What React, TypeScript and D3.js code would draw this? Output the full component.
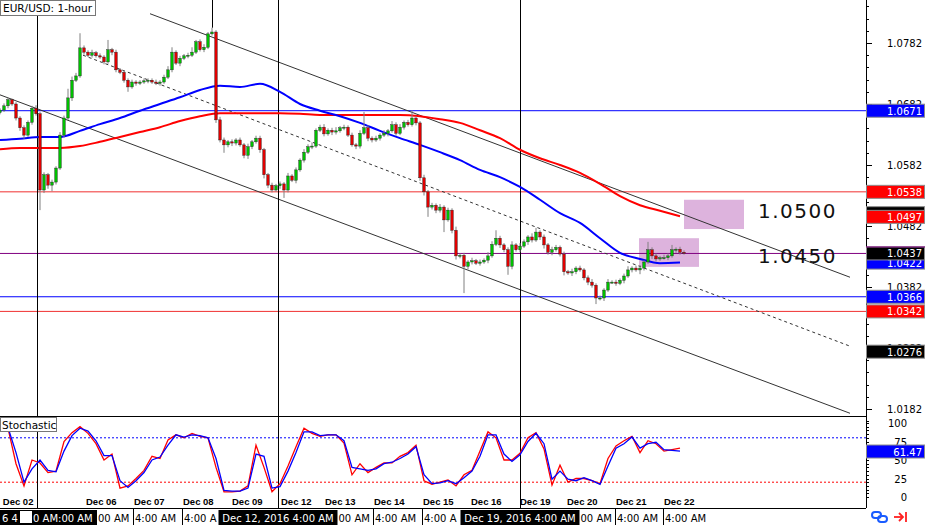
import React from 'react';
import * as d3 from 'd3';

const W = 925;
const H = 525;

// 2-hour candles (close prices); open = previous close
const firstOpen = 1.0668;
const closes = [
  1.0672, 1.0679, 1.0689, 1.0682, 1.0659, 1.0643, 1.0631, 1.0652, 1.0675, 1.0666,
  1.0541, 1.0566, 1.0549, 1.0554, 1.0577, 1.0631, 1.0659, 1.0692, 1.0721, 1.0728,
  1.0774, 1.0767, 1.0762, 1.0766, 1.0761, 1.0759, 1.0751, 1.0771, 1.0767, 1.0738,
  1.0734, 1.0721, 1.0710, 1.0718, 1.0716, 1.0718, 1.0720, 1.0721, 1.0718, 1.0716,
  1.0718, 1.0726, 1.0738, 1.0767, 1.0749, 1.0757, 1.0761, 1.0762, 1.0767, 1.0784,
  1.0771, 1.0775, 1.0797, 1.0800, 1.0656, 1.0623, 1.0615, 1.0620, 1.0618, 1.0623,
  1.0615, 1.0598, 1.0612, 1.0620, 1.0626, 1.0607, 1.0566, 1.0549, 1.0541, 1.0548,
  1.0551, 1.0541, 1.0564, 1.0557, 1.0574, 1.0590, 1.0603, 1.0612, 1.0613, 1.0639,
  1.0644, 1.0633, 1.0639, 1.0636, 1.0638, 1.0643, 1.0644, 1.0631, 1.0615, 1.0613,
  1.0634, 1.0643, 1.0626, 1.0623, 1.0626, 1.0631, 1.0634, 1.0638, 1.0648, 1.0634,
  1.0644, 1.0652, 1.0648, 1.0659, 1.0651, 1.0561, 1.0538, 1.0513, 1.0516, 1.0508,
  1.0513, 1.0492, 1.0508, 1.0475, 1.0433, 1.0434, 1.0416, 1.0423, 1.0425, 1.0421,
  1.0423, 1.0426, 1.0433, 1.0452, 1.0462, 1.0451, 1.0443, 1.0416, 1.0451, 1.0443,
  1.0449, 1.0456, 1.0464, 1.0459, 1.0472, 1.0464, 1.0451, 1.0439, 1.0443, 1.0447,
  1.0436, 1.0407, 1.0405, 1.0407, 1.0413, 1.0410, 1.0397, 1.0390, 1.0385, 1.0364,
  1.0364, 1.0377, 1.0390, 1.0390, 1.0388, 1.0393, 1.0400, 1.0410, 1.0413, 1.0410,
  1.0413, 1.0423, 1.0443, 1.0433, 1.0428, 1.0430, 1.0430, 1.0433, 1.0443, 1.0444,
  1.0439, 1.0438,
];
// wick lengths in pips above / below the body
const wickUp = [
  3, 4, 3, 2, 3, 3, 4, 3, 4, 5,
  3, 4, 3, 4, 3, 5, 4, 15, 6, 5,
  24, 4, 3, 5, 3, 4, 3, 16, 3, 4,
  3, 3, 3, 4, 3, 3, 4, 3, 3, 4,
  3, 4, 6, 8, 3, 4, 3, 4, 8, 3,
  4, 5, 3, 7, 3, 5, 4, 3, 4, 3,
  4, 3, 5, 3, 4, 4, 3, 3, 4, 3,
  4, 3, 5, 3, 4, 3, 5, 4, 6, 3,
  4, 5, 3, 4, 6, 3, 4, 3, 4, 3,
  5, 26, 4, 3, 4, 3, 5, 3, 6, 4,
  5, 3, 4, 13, 3, 3, 5, 3, 4, 3,
  5, 3, 4, 3, 6, 3, 4, 3, 5, 3,
  4, 3, 6, 5, 13, 4, 3, 4, 6, 3,
  5, 4, 3, 6, 7, 3, 4, 3, 5, 4,
  3, 4, 3, 5, 3, 4, 3, 4, 5, 3,
  4, 3, 5, 3, 4, 3, 4, 6, 3, 4,
  5, 3, 13, 4, 4, 3, 5, 4, 8, 3,
  4, 3,
];
const wickDown = [
  3, 3, 4, 3, 4, 5, 6, 3, 4, 3,
  33, 5, 6, 10, 4, 3, 4, 3, 5, 3,
  3, 4, 3, 4, 3, 3, 4, 3, 5, 4,
  3, 4, 8, 3, 4, 3, 3, 4, 3, 3,
  4, 3, 3, 4, 3, 5, 3, 4, 3, 3,
  3, 4, 3, 3, 5, 4, 13, 4, 5, 4,
  3, 5, 6, 4, 3, 5, 6, 5, 4, 3,
  5, 13, 4, 3, 5, 3, 4, 3, 4, 3,
  3, 4, 3, 5, 4, 3, 4, 3, 3, 5,
  4, 3, 5, 4, 3, 4, 3, 5, 3, 4,
  3, 4, 3, 3, 4, 5, 6, 16, 4, 5,
  4, 20, 3, 5, 6, 4, 44, 5, 4, 3,
  4, 3, 5, 3, 3, 5, 4, 14, 5, 3,
  4, 3, 5, 4, 3, 5, 6, 4, 5, 3,
  4, 6, 3, 5, 4, 3, 4, 5, 4, 10,
  4, 5, 3, 3, 4, 3, 5, 3, 4, 3,
  7, 4, 3, 5, 4, 3, 3, 4, 3, 5,
  4, 3,
];

// moving averages, one value every 5 candles
const blueMA = [
  1.0623, 1.0625, 1.0628, 1.0628, 1.0638, 1.0649, 1.0659, 1.0671, 1.0682, 1.0693,
  1.0705, 1.0712, 1.0710, 1.0715, 1.0702, 1.0682, 1.0671, 1.0662, 1.0651, 1.0638,
  1.0626, 1.0615, 1.0603, 1.0590, 1.0574, 1.0562, 1.0546, 1.0525, 1.0503, 1.0487,
  1.0462, 1.0438, 1.0428, 1.0421, 1.0422,
];
const redMA = [
  1.0608, 1.0610, 1.0610, 1.0610, 1.0613, 1.0620, 1.0628, 1.0636, 1.0644, 1.0654,
  1.0662, 1.0667, 1.0667, 1.0667, 1.0667, 1.0666, 1.0664, 1.0664, 1.0664, 1.0664,
  1.0664, 1.0662, 1.0657, 1.0651, 1.0639, 1.0626, 1.0607, 1.0593, 1.0582, 1.0569,
  1.0551, 1.0531, 1.0516, 1.0507, 1.0498,
];

// stochastic, one value every 2 candles
const stochMain = [
  93, 93, 45, 15, 50, 46, 33, 35, 75, 87,
  95, 86, 72, 50, 58, 12, 15, 25, 36, 55,
  52, 77, 84, 80, 86, 82, 80, 40, 7, 7,
  8, 15, 70, 40, 7, 18, 42, 68, 93, 86,
  82, 84, 84, 73, 30, 45, 33, 40, 46, 46,
  55, 60, 70, 22, 17, 20, 23, 15, 30, 36,
  62, 88, 80, 50, 50, 59, 80, 87, 65, 16,
  43, 20, 25, 25, 22, 18, 52, 69, 76, 82,
  60, 76, 72, 62, 64, 66,
];
const stochSignal = [
  92, 94, 60, 20, 38, 50, 36, 34, 62, 83,
  93, 89, 76, 56, 56, 22, 13, 22, 33, 50,
  54, 70, 84, 81, 84, 83, 80, 52, 9, 8,
  8, 12, 58, 55, 12, 14, 35, 60, 88, 88,
  83, 84, 84, 76, 40, 38, 36, 38, 45, 47,
  52, 58, 68, 30, 18, 19, 22, 18, 26, 35,
  55, 84, 84, 58, 48, 57, 75, 86, 72, 24,
  35, 24, 22, 26, 22, 17, 42, 66, 72, 81,
  66, 72, 74, 64, 63, 62,
];
const stochLast = 61.47;

const dayLabels = ['Dec 02', 'Dec 06', 'Dec 07', 'Dec 08', 'Dec 09', 'Dec 12', 'Dec 13',
  'Dec 14', 'Dec 15', 'Dec 16', 'Dec 19', 'Dec 20', 'Dec 21', 'Dec 22'];
const dayBars = [0.7, 21.5, 33.5, 45.75, 58, 70.25, 81.25, 93.5, 105.75, 117.75, 130, 141.75, 154, 166];

const priceTicks = [1.0182, 1.0282, 1.0382, 1.0482, 1.0582, 1.0682, 1.0782];
const stochTicks = [0, 25, 50, 75, 100];

// horizontal levels
const blueLevels = [1.0671, 1.0366];
const redLevels = [1.0538, 1.0342];
const bidLevel = 1.0437;

// trendlines: [bar, price] pairs
const channelUpper: [number, number][] = [[37.5, 1.0830], [212.5, 1.0398]];
const channelLower: [number, number][] = [[0, 1.0697], [212.5, 1.0175]];
const channelMid: [number, number][] = [[20.75, 1.0762], [212.5, 1.0285]];

// highlighted zones: [barFrom, barTo, priceTop, priceBottom]
const zones: [number, number, number, number][] = [
  [171, 186, 1.0525, 1.0477],
  [159.75, 174.75, 1.0462, 1.0415],
];
const zoneTexts = ['1.0500', '1.0450'];
const zoneTextPrices = [1.0500, 1.0450];

const crossBars = [9.25, 69.5, 130];
const crossLabels = ['Dec 12, 2016 4:00 AM', 'Dec 19, 2016 4:00 AM'];

const FONT = 'DejaVu Sans, sans-serif';

export default function App() {
  const x = d3.scaleLinear().domain([0, 216.5]).range([0, 866]);
  const y = d3.scaleLinear().domain([1.0182, 1.0782]).range([409, 43]);
  const ys = d3.scaleLinear().domain([0, 100]).range([497, 423]);

  const candles = closes.map((c, i) => {
    const o = i === 0 ? firstOpen : closes[i - 1];
    return {
      i, o, c,
      hi: Math.max(o, c) + wickUp[i] * 0.0001,
      lo: Math.min(o, c) - wickDown[i] * 0.0001,
    };
  });

  const maLine = d3.line<number>().x((_, j) => x(j * 5)).y(v => y(v)).curve(d3.curveMonotoneX);
  const stLine = d3.line<number>().x((_, j) => x(j * 2)).y(v => ys(v));
  const seg = (p: [number, number][]) => d3.line<[number, number]>().x(d => x(d[0])).y(d => y(d[1]))(p) || '';

  const minorPrice = d3.range(1.0162, 1.0842, 0.002);
  const minorStoch = d3.range(0, 101, 5);

  // black date labels on the time axis cover parts of the row below
  const covers: [number, number][] = [[0, 97], ...crossLabels.map((_, i) => {
    const cx = x(crossBars[i + 1]);
    return [cx - 59.5, cx + 59.5] as [number, number];
  })];
  const cellW = 43;
  const cells = dayBars.slice(1).map(b => {
    const x0 = x(b) + 1;
    for (const [a, e] of covers) {
      if (x0 >= a && x0 + cellW <= e) return null;
      if (x0 >= a && x0 < e) return { sep: null, tx: e + 1, text: '00 AM' };
      if (x0 < a && x0 + cellW > a) return { sep: x0 - 2.5, tx: x0, text: '4:00 A' };
    }
    return { sep: x0 - 2.5, tx: x0, text: '4:00 AM' };
  });

  const box = (fill: string, cy: number, text: string) => (
    <g key={text + fill + cy}>
      <rect x={866.5} y={cy - 6.5} width={58} height={13} fill={fill} stroke="#8c8c8c" strokeWidth={1} />
      <text x={922} y={cy + 4} textAnchor="end" fill="#fff" fontSize={10} fontFamily={FONT}>{text}</text>
    </g>
  );

  return (
    <svg width={W} height={H} style={{ position: 'absolute', left: 0, top: 0, background: '#fff' }}>
      <defs>
        <clipPath id="pricePanel"><rect x={0} y={0} width={866} height={416} /></clipPath>
        <clipPath id="stochPanel"><rect x={0} y={417} width={866} height={91} /></clipPath>
      </defs>
      <rect width={W} height={H} fill="#fff" />

      {/* price panel */}
      <g clipPath="url(#pricePanel)">
        {zones.map((z, i) => (
          <rect key={i} x={x(z[0])} y={y(z[2])} width={x(z[1]) - x(z[0])} height={y(z[3]) - y(z[2])} fill="#ddb3dd" />
        ))}
        {blueLevels.map(v => <line key={v} x1={0} x2={866} y1={y(v)} y2={y(v)} stroke="#0000ff" strokeWidth={1} />)}
        {redLevels.map(v => <line key={v} x1={0} x2={866} y1={y(v)} y2={y(v)} stroke="#f03030" strokeWidth={1} />)}
        <line x1={0} x2={866} y1={y(bidLevel)} y2={y(bidLevel)} stroke="#800080" strokeWidth={1} />

        <path d={seg(channelUpper)} stroke="#333" strokeWidth={1} fill="none" />
        <path d={seg(channelLower)} stroke="#333" strokeWidth={1} fill="none" />
        <path d={seg(channelMid)} stroke="#333" strokeWidth={1} strokeDasharray="3,3" fill="none" />

        {crossBars.map(b => <line key={b} x1={Math.round(x(b)) + 0.5} x2={Math.round(x(b)) + 0.5} y1={0} y2={416} stroke="#000" strokeWidth={1} />)}
        <line x1={x(53) + 0.5} x2={x(53) + 0.5} y1={0} y2={y(candles[53].hi)} stroke="#000" strokeWidth={1} />

        <path d={maLine(redMA) || ''} stroke="#ff0000" strokeWidth={2} fill="none" />
        <path d={maLine(blueMA) || ''} stroke="#0000ff" strokeWidth={2} fill="none" />

        {candles.map(d => {
          const cx = x(d.i);
          const bull = d.c >= d.o;
          const top = y(Math.max(d.o, d.c));
          const bot = y(Math.min(d.o, d.c));
          return (
            <g key={d.i}>
              <line x1={cx} x2={cx} y1={y(d.hi)} y2={y(d.lo)} stroke="#808080" strokeWidth={1} />
              <rect x={cx - 1.3} y={top} width={2.6} height={Math.max(1, bot - top)}
                fill={bull ? '#00c000' : '#e00000'} stroke="#202020" strokeWidth={0.4} />
            </g>
          );
        })}
      </g>

      {zoneTexts.map((t, i) => (
        <text key={t} x={x(189.5)} y={y(zoneTextPrices[i]) + (i === 0 ? 3 : 17)} fontSize={20}
          letterSpacing={1.5} fontFamily={FONT} fill="#111">{t}</text>
      ))}

      {/* stochastic panel */}
      <g clipPath="url(#stochPanel)">
        <line x1={0} x2={866} y1={ys(80)} y2={ys(80)} stroke="#0000ff" strokeDasharray="2,2" />
        <line x1={0} x2={866} y1={ys(20)} y2={ys(20)} stroke="#ff0000" strokeDasharray="2,2" />
        {crossBars.map(b => <line key={b} x1={Math.round(x(b)) + 0.5} x2={Math.round(x(b)) + 0.5} y1={416} y2={508} stroke="#000" strokeWidth={1} />)}
        <path d={stLine(stochMain) || ''} stroke="#ff0000" strokeWidth={1.3} fill="none" />
        <path d={stLine(stochSignal) || ''} stroke="#0000ff" strokeWidth={1.3} fill="none" />
      </g>

      {/* frames */}
      <line x1={0} x2={866} y1={416.5} y2={416.5} stroke="#000" />
      <line x1={0} x2={866} y1={508.5} y2={508.5} stroke="#000" />
      <line x1={866.5} x2={866.5} y1={0} y2={508} stroke="#000" />

      {/* titles */}
      <rect x={0.5} y={0.5} width={95} height={15} fill="#fff" stroke="#777" />
      <text x={3} y={12} fontSize={10.5} fontFamily={FONT} fill="#000">EUR/USD: 1-hour</text>
      <rect x={0.5} y={417.5} width={56} height={14} fill="#fff" stroke="#777" />
      <text x={2} y={428.5} fontSize={10.5} fontFamily={FONT} fill="#000">Stochastic</text>

      {/* price axis */}
      {minorPrice.map(v => <line key={v} x1={866} x2={869} y1={Math.round(y(v)) + 0.5} y2={Math.round(y(v)) + 0.5} stroke="#000" />)}
      {priceTicks.map(v => (
        <g key={v}>
          <line x1={866} x2={872} y1={Math.round(y(v)) + 0.5} y2={Math.round(y(v)) + 0.5} stroke="#000" />
          <text x={922} y={y(v) + 4} textAnchor="end" fontSize={10} fontFamily={FONT} fill="#000">{v.toFixed(4)}</text>
        </g>
      ))}
      {box('#0000ff', y(1.0671), '1.0671')}
      {box('#ff0000', y(1.0538), '1.0538')}
      {box('#000000', y(1.0503), '')}
      {box('#ff0000', y(1.0497), '1.0497')}
      {box('#0000ff', y(1.0422), '1.0422')}
      {box('#000000', y(bidLevel), '1.0437')}
      <line x1={866} x2={925} y1={y(bidLevel) - 6.5} y2={y(bidLevel) - 6.5} stroke="#800080" />
      {box('#0000ff', y(1.0366), '1.0366')}
      {box('#ff0000', y(1.0342), '1.0342')}
      {box('#000000', y(1.0276), '1.0276')}

      {/* stochastic axis */}
      {minorStoch.map(v => <line key={v} x1={866} x2={869} y1={Math.round(ys(v)) + 0.5} y2={Math.round(ys(v)) + 0.5} stroke="#000" />)}
      {stochTicks.map(v => (
        <text key={v} x={907} y={ys(v) + 4} textAnchor="end" fontSize={10} fontFamily={FONT} fill="#000">{v}</text>
      ))}
      {box('#0000ff', ys(stochLast), stochLast.toFixed(2))}

      {/* time axis */}
      {dayLabels.map((t, i) => (
        <text key={t} x={x(dayBars[i])} y={505} fontSize={9.5} fontWeight="bold"
          fontFamily="Liberation Sans, Arial, sans-serif" fill="#000">{t}</text>
      ))}
      {cells.map((c, i) => c && (
        <g key={i}>
          {c.sep !== null && <line x1={Math.round(c.sep) + 0.5} x2={Math.round(c.sep) + 0.5} y1={509} y2={525} stroke="#000" />}
          <text x={c.tx} y={522} fontSize={10} fontFamily={FONT} fill="#000">{c.text}</text>
        </g>
      ))}
      <rect x={0} y={510} width={97} height={15} fill="#000" />
      <text x={2} y={522} fontSize={10} fontFamily={FONT} fill="#fff">6 4</text>
      <rect x={20} y={511} width={12} height={12} fill="#fff" />
      <text x={33} y={522} fontSize={10} fontFamily={FONT} fill="#fff">0 AM:00 AM</text>
      {crossLabels.map((t, i) => {
        const cx = x(crossBars[i + 1]);
        return (
          <g key={t}>
            <rect x={cx - 59.5} y={510} width={119} height={15} fill="#000" />
            <text x={cx} y={522} textAnchor="middle" fontSize={10} fontFamily={FONT} fill="#fff">{t}</text>
          </g>
        );
      })}

      {/* corner icons */}
      <g stroke="#1a5cff" strokeWidth={2} fill="none">
        <rect x={872} y={512} width={9} height={6} rx={3} />
        <rect x={878} y={516} width={9} height={6} rx={3} />
      </g>
      <g stroke="#ff2020" strokeWidth={1.8} fill="none">
        <line x1={894} y1={517} x2={903} y2={517} />
        <polyline points="899,513 903,517 899,521" />
        <line x1={906} y1={512} x2={906} y2={522} />
      </g>
    </svg>
  );
}
